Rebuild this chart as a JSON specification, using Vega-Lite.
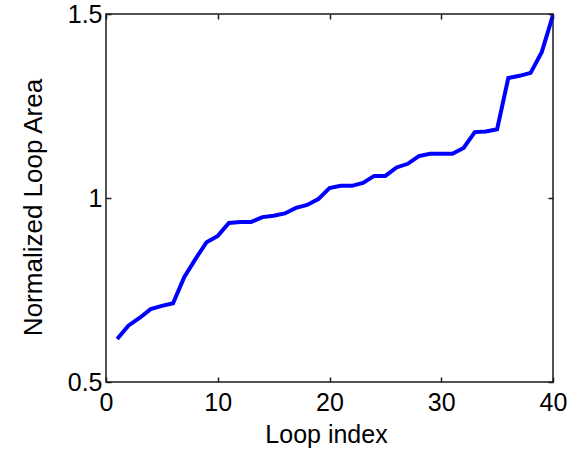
{
  "$schema": "https://vega.github.io/schema/vega-lite/v6.json",
  "autosize": {"type": "none"},
  "padding": {"left": 106, "top": 14, "right": 24, "bottom": 73},
  "width": 447,
  "height": 368,
  "background": "white",
  "config": {
    "view": {"stroke": "#1a1a1a", "strokeWidth": 1.5},
    "axis": {
      "domain": false,
      "grid": false,
      "labelFlush": false,
      "labelOverlap": false,
      "tickColor": "#1a1a1a",
      "tickSize": -5,
      "tickWidth": 1.5,
      "labelFont": "Liberation Sans",
      "labelFontSize": 25,
      "labelColor": "black",
      "titleFont": "Liberation Sans",
      "titleFontSize": 25,
      "titleFontWeight": "normal",
      "titleColor": "black"
    }
  },
  "data": {
    "values": [
      {"i": 1, "v": 0.617}, {"i": 2, "v": 0.653}, {"i": 3, "v": 0.674}, {"i": 4, "v": 0.698},
      {"i": 5, "v": 0.707}, {"i": 6, "v": 0.714}, {"i": 7, "v": 0.785}, {"i": 8, "v": 0.834},
      {"i": 9, "v": 0.880}, {"i": 10, "v": 0.897}, {"i": 11, "v": 0.932}, {"i": 12, "v": 0.935},
      {"i": 13, "v": 0.935}, {"i": 14, "v": 0.948}, {"i": 15, "v": 0.952}, {"i": 16, "v": 0.958},
      {"i": 17, "v": 0.973}, {"i": 18, "v": 0.981}, {"i": 19, "v": 0.997}, {"i": 20, "v": 1.027},
      {"i": 21, "v": 1.033}, {"i": 22, "v": 1.033}, {"i": 23, "v": 1.041}, {"i": 24, "v": 1.060},
      {"i": 25, "v": 1.060}, {"i": 26, "v": 1.083}, {"i": 27, "v": 1.093}, {"i": 28, "v": 1.114},
      {"i": 29, "v": 1.120}, {"i": 30, "v": 1.120}, {"i": 31, "v": 1.120}, {"i": 32, "v": 1.136},
      {"i": 33, "v": 1.179}, {"i": 34, "v": 1.181}, {"i": 35, "v": 1.187}, {"i": 36, "v": 1.326},
      {"i": 37, "v": 1.332}, {"i": 38, "v": 1.340}, {"i": 39, "v": 1.397}, {"i": 40, "v": 1.497}
    ]
  },
  "layer": [
    {
      "mark": {"type": "line", "color": "#0000ff", "strokeWidth": 4, "clip": true},
      "encoding": {
        "x": {"field": "i", "type": "quantitative", "scale": {"domain": [0, 40], "nice": false, "zero": false},
              "axis": {"title": "Loop index", "titleX": 220, "values": [0, 10, 20, 30, 40], "labelPadding": 13, "titlePadding": 7}},
        "y": {"field": "v", "type": "quantitative", "scale": {"domain": [0.5, 1.5], "nice": false, "zero": false},
              "axis": {"title": "Normalized Loop Area", "titleY": 193, "titleFontSize": 26, "values": [0.5, 1, 1.5], "format": "~g", "labelPadding": 9, "titlePadding": 21}}
      }
    },
    {
      "mark": {"type": "line", "opacity": 0},
      "encoding": {
        "x": {"field": "i", "type": "quantitative", "axis": {"orient": "top", "values": [0, 10, 20, 30, 40], "labels": false, "title": null}},
        "y": {"field": "v", "type": "quantitative", "axis": {"orient": "right", "values": [0.5, 1, 1.5], "labels": false, "title": null}}
      }
    }
  ],
  "resolve": {"axis": {"x": "independent", "y": "independent"}}
}
